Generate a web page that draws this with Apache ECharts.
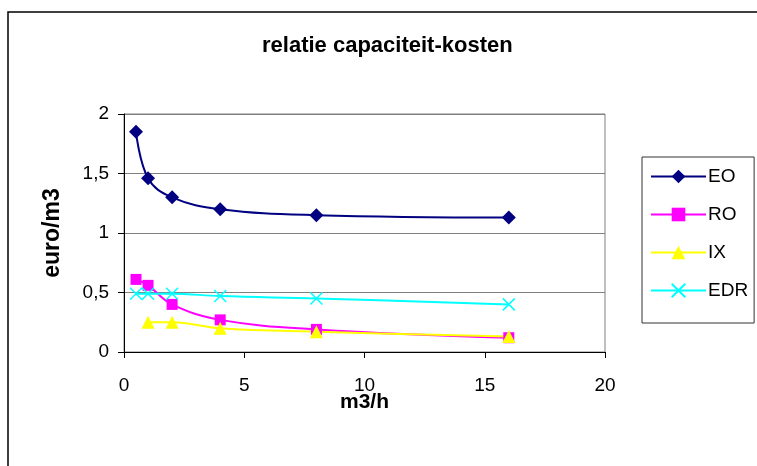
<!DOCTYPE html>
<html>
<head>
<meta charset="utf-8">
<script src="https://cdn.jsdelivr.net/npm/echarts@6/dist/echarts.min.js"></script>
<style>
html,body{margin:0;padding:0;background:#fff;}
#c{width:757px;height:466px;}
</style>
</head>
<body>
<div id="c"></div>
<script>
const capacity = [0.5, 1, 2, 4, 8, 16];
const capacityIX = [1, 2, 4, 8, 16];
const eo = [1.85, 1.46, 1.30, 1.20, 1.15, 1.13];
const ro = [0.61, 0.56, 0.40, 0.27, 0.19, 0.12];
const ix = [0.25, 0.25, 0.20, 0.17, 0.13];
const edr = [0.49, 0.49, 0.49, 0.47, 0.45, 0.40];
const xTicks = [0, 5, 10, 15, 20];
const yTicks = [0, 0.5, 1, 1.5, 2];

const pairs = (xs, ys) => xs.map((x, i) => [x, ys[i]]);
const FONT = 'Liberation Sans, Arial, sans-serif';
const crossPath = 'path://M0,0L10,10M10,0L0,10';

const chart = echarts.init(document.getElementById('c'), null, {renderer: 'canvas'});
function mk(name, xs, ys, color, symbol, size, extra) {
  return Object.assign({
    name: name,
    type: 'line',
    data: pairs(xs, ys),
    smooth: 0.4,
    symbol: symbol,
    symbolSize: size,
    showAllSymbol: true,
    lineStyle: {color: color, width: 2},
    itemStyle: {color: color},
    emphasis: {disabled: true},
    animation: false
  }, extra || {});
}
chart.setOption({
  animation: false,
  backgroundColor: '#ffffff',
  title: {
    text: 'relatie capaciteit-kosten',
    left: 257,
    top: 30,
    textStyle: {fontFamily: FONT, fontSize: 22, fontWeight: 'bold', color: '#000'}
  },
  graphic: [{
    type: 'rect',
    shape: {x: 8, y: 12, width: 800, height: 500},
    style: {fill: null, stroke: '#000', lineWidth: 1.5},
    silent: true, z: -1
  }],
  legend: {
    orient: 'vertical',
    left: 642,
    top: 157,
    padding: [10, 6, 23, 8],
    itemWidth: 55,
    itemHeight: 17,
    itemGap: 19,
    borderColor: '#333',
    borderWidth: 1,
    textStyle: {fontFamily: FONT, fontSize: 19, color: '#000', padding: [0, 0, 0, -3]},
    data: ['EO', 'RO', 'IX', 'EDR']
  },
  grid: {left: 124, right: 152, top: 114, bottom: 114, show: true, borderColor: '#808080', borderWidth: 1, backgroundColor: '#fff'},
  xAxis: {
    type: 'value', min: xTicks[0], max: xTicks[xTicks.length - 1], interval: 5,
    name: 'm3/h', nameLocation: 'middle', nameGap: 40, nameMoveOverlap: false,
    nameTextStyle: {fontFamily: FONT, fontSize: 21, fontWeight: 'bold', color: '#000'},
    axisLine: {show: true, lineStyle: {color: '#000', width: 1}},
    axisTick: {show: true, length: 6, lineStyle: {color: '#000'}},
    axisLabel: {fontFamily: FONT, fontSize: 19, color: '#000', margin: 24},
    splitLine: {show: false}
  },
  yAxis: {
    type: 'value', min: yTicks[0], max: yTicks[yTicks.length - 1], interval: 0.5,
    name: 'euro/m3', nameLocation: 'middle', nameGap: 60, nameRotate: 90, nameMoveOverlap: false,
    nameTextStyle: {fontFamily: FONT, fontSize: 23, fontWeight: 'bold', color: '#000'},
    axisLine: {show: true, lineStyle: {color: '#000', width: 1}},
    axisTick: {show: true, length: 6, lineStyle: {color: '#000'}},
    axisLabel: {fontFamily: FONT, fontSize: 19, color: '#000', margin: 15,
      formatter: v => String(v).replace('.', ',')},
    splitLine: {show: true, lineStyle: {color: '#808080', width: 1}}
  },
  series: [
    mk('EO', capacity, eo, '#000080', 'diamond', 14),
    mk('RO', capacity, ro, '#ff00ff', 'rect', 11),
    mk('IX', capacityIX, ix, '#ffff00', 'triangle', 13),
    mk('EDR', capacity, edr, '#00ffff', crossPath, 12, {itemStyle: {color: '#00ffff', borderColor: '#00ffff', borderWidth: 1.5}})
  ]
});
</script>
</body>
</html>
